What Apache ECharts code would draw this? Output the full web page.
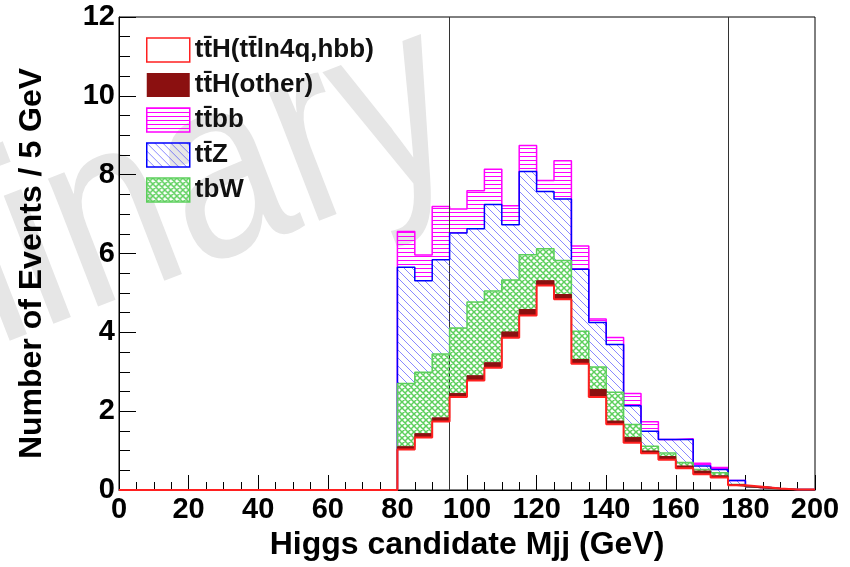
<!DOCTYPE html>
<html>
<head>
<meta charset="utf-8">
<script src="https://cdn.jsdelivr.net/npm/echarts@6/dist/echarts.min.js"></script>
<style>
html,body{margin:0;padding:0;background:#fff;}
#main{width:850px;height:567px;}
</style>
</head>
<body>
<div id="main"></div>
<script>
// bin edges (GeV), 5 GeV bins from 0 to 200
var binEdges = [0,5,10,15,20,25,30,35,40,45,50,55,60,65,70,75,80,85,90,95,100,
	105,110,115,120,125,130,135,140,145,150,155,160,165,170,175,180,185,190,195,200];

// events per bin (40 bins)
var ttH_signal = [0,0,0,0,0,0,0,0,0,0,0,0,0,0,0,0,
	1.03,1.33,1.74,2.36,2.78,3.10,3.86,4.43,5.19,4.84,3.20,2.36,1.67,1.20,0.93,0.77,0.55,0.40,0.32,0.12,0.08,0.04,0.01,0.01];
var ttH_other = [0,0,0,0,0,0,0,0,0,0,0,0,0,0,0,0,
	0.07,0.10,0.09,0.09,0.12,0.13,0.15,0.15,0.12,0.12,0.11,0.19,0.08,0.13,0.06,0.08,0.06,0.08,0.04,0.02,0,0,0,0];
var tbW = [0,0,0,0,0,0,0,0,0,0,0,0,0,0,0,0,
	1.60,1.56,1.62,1.66,1.87,1.82,1.32,1.39,0.81,0.86,0.72,0.57,0.73,0.33,0.12,0.09,0.09,0.04,0.08,0,0,0,0,0];
var ttZ = [0,0,0,0,0,0,0,0,0,0,0,0,0,0,0,0,
	2.95,2.32,2.39,2.41,1.86,2.19,1.40,2.11,1.45,1.56,1.57,1.13,1.21,0.48,0.38,0.34,0.58,0.09,0.08,0.10,0,0,0,0];
var ttbb = [0,0,0,0,0,0,0,0,0,0,0,0,0,0,0,0,
	0.91,0.65,1.35,0.61,0.96,0.90,0.48,0.66,0.28,0.97,0.59,0.09,0.18,0.31,0.24,0,0.02,0.07,0.05,0,0,0,0,0];

var cutLines = [95, 175];
var yTicks = [0, 12, 2];
var xTicks = [0, 200, 20];

var names = ['t\u0074\u0304H(t\u0074\u0304ln4q,hbb)', 't\u0074\u0304H(other)', 't\u0074\u0304bb', 't\u0074\u0304Z', 'tbW'];

function hatch(kind, color, size, lw){
	var c = document.createElement('canvas');
	c.width = size; c.height = size;
	var g = c.getContext('2d');
	g.strokeStyle = color;
	g.lineWidth = lw;
	g.beginPath();
	if(kind=='h'){
		g.moveTo(0, 0.5); g.lineTo(size, 0.5);
	}
	if(kind=='d' || kind=='x'){
		// "\" direction
		g.moveTo(-1, -1); g.lineTo(size+1, size+1);
		g.moveTo(-1, size-1); g.lineTo(1, size+1);
		g.moveTo(size-1, -1); g.lineTo(size+1, 1);
	}
	if(kind=='x'){
		g.moveTo(-1, size+1); g.lineTo(size+1, -1);
		g.moveTo(-1, 1); g.lineTo(1, -1);
		g.moveTo(size-1, size+1); g.lineTo(size+1, size-1);
	}
	g.stroke();
	return {image: c, repeat: 'repeat'};
}

var pBB = hatch('h', '#ff00ff', 4, 1);
var pZ = hatch('d', 'rgba(40,40,255,0.55)', 8, 1);
var pW = hatch('x', '#5ccf5c', 6, 1.5);

// one value per bin edge, last bin repeated for the closing step
function steps(vals){
	var d = [];
	for(var i=0;i<binEdges.length;i++){
		d.push(vals[Math.min(i, vals.length-1)]);
	}
	return d;
}

function histSeries(name, vals, line, lw, fill, z){
	return {
		name: name,
		type: 'line',
		xAxisIndex: 1,
		step: 'end',
		stack: 'mc',
		symbol: 'none',
		showSymbol: false,
		clip: false,
		z: z,
		lineStyle: {color: line, width: lw},
		itemStyle: {color: line},
		areaStyle: fill ? {color: fill, opacity: 1} : {color: 'rgba(255,255,255,0)'},
		emphasis: {disabled: true},
		data: steps(vals)
	};
}

var myChart = echarts.init(document.getElementById('main'), null, {renderer: 'canvas'});
var fontFam = '"Liberation Sans", Arial, sans-serif';

var series = [
	histSeries(names[0], ttH_signal, '#ff2020', 2, null, 8),
	histSeries(names[1], ttH_other, '#8b1010', 1, '#8b1010', 7),
	histSeries(names[4], tbW, '#5ccf5c', 1.5, pW, 6),
	histSeries(names[3], ttZ, '#0000ff', 1.5, pZ, 5),
	histSeries(names[2], ttbb, '#ff00ff', 1.5, pBB, 4)
];
// cut lines
series.push({
	type: 'line',
	xAxisIndex: 0,
	data: [],
	silent: true,
	z: 9,
	markLine: {
		silent: true,
		symbol: 'none',
		label: {show: false},
		lineStyle: {color: '#333', width: 1, type: 'solid'},
		data: cutLines.map(function(v){ return {xAxis: v}; })
	}
});

var option = {
	animation: false,
	backgroundColor: '#fff',
	textStyle: {fontFamily: fontFam},
	grid: {left: 119, right: 35, top: 17, bottom: 77, show: true, borderColor: '#000', borderWidth: 1, backgroundColor: 'transparent'},
	graphic: [{
		type: 'text',
		x: 445, y: 95,
		rotation: 0.37,
		scaleX: 0.82,
		z: -10,
		silent: true,
		style: {text: 'Preliminary', font: '260px ' + fontFam, fill: '#e6e6e6', align: 'right', verticalAlign: 'middle'}
	}],
	legend: {
		orient: 'vertical',
		left: 146, top: 37,
		padding: 0,
		z: 20,
		itemWidth: 43, itemHeight: 24, itemGap: 9,
		icon: 'rect',
		selectedMode: false,
		textStyle: {fontSize: 26, fontWeight: 'bold', color: '#111', fontFamily: fontFam},
		data: [
			{name: names[0], itemStyle: {color: '#fff', borderColor: '#ff2020', borderWidth: 1.5}},
			{name: names[1], itemStyle: {color: '#8b1010', borderColor: '#8b1010', borderWidth: 0}},
			{name: names[2], itemStyle: {color: pBB, borderColor: '#ff00ff', borderWidth: 1.5}},
			{name: names[3], itemStyle: {color: pZ, borderColor: '#0000ff', borderWidth: 1.5}},
			{name: names[4], itemStyle: {color: pW, borderColor: '#5ccf5c', borderWidth: 1.5}}
		]
	},
	xAxis: [{
		type: 'value',
		min: xTicks[0], max: xTicks[1], interval: xTicks[2],
		name: 'Higgs candidate Mjj (GeV)',
		nameLocation: 'middle',
		nameGap: 39,
		nameTextStyle: {fontSize: 32, fontWeight: 'bold', color: '#000', fontFamily: fontFam},
		axisLine: {lineStyle: {color: '#000', width: 1}},
		axisTick: {inside: true, length: 15, lineStyle: {color: '#000'}},
		minorTick: {show: true, splitNumber: 4, length: 8, lineStyle: {color: '#000'}},
		splitLine: {show: false},
		axisLabel: {fontSize: 29, fontWeight: 'bold', color: '#000', margin: 5, fontFamily: fontFam}
	}, {
		type: 'category',
		data: binEdges.map(String),
		boundaryGap: false,
		position: 'bottom',
		show: false
	}],
	yAxis: {
		type: 'value',
		min: yTicks[0], max: yTicks[1], interval: yTicks[2],
		name: 'Number of Events / 5 GeV',
		nameLocation: 'middle',
		nameGap: 71,
		nameTextStyle: {fontSize: 32, fontWeight: 'bold', color: '#000', fontFamily: fontFam, padding: [0, 20, 0, 0]},
		axisLine: {show: true, lineStyle: {color: '#000', width: 1}},
		axisTick: {inside: true, length: 17, lineStyle: {color: '#000'}},
		minorTick: {show: true, splitNumber: 4, length: 11, lineStyle: {color: '#000'}},
		splitLine: {show: false},
		axisLabel: {fontSize: 29, fontWeight: 'bold', color: '#000', margin: 4, fontFamily: fontFam}
	},
	series: series
};
myChart.setOption(option);
</script>
</body>
</html>
